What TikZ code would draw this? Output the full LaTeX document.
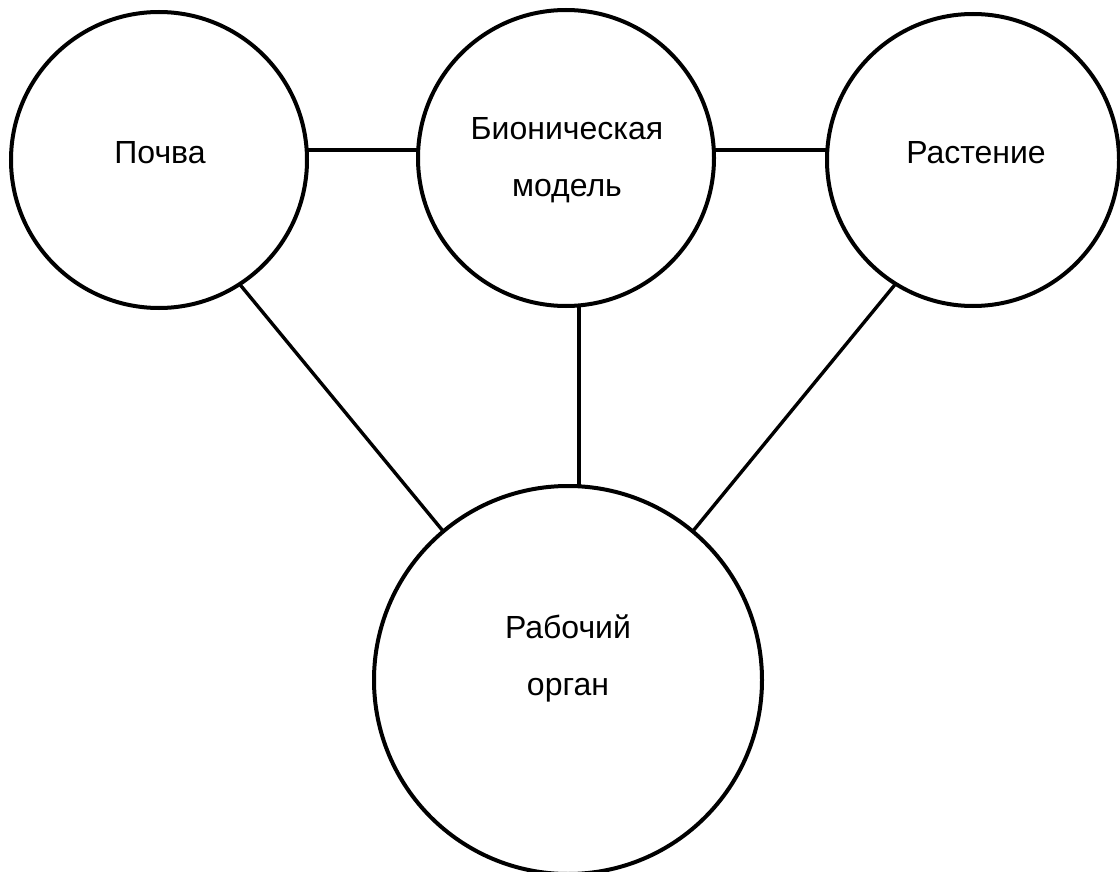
\documentclass[tikz,border=0pt]{standalone}
\usepackage{fontspec}
\setmainfont{Liberation Sans}
\begin{document}
\begin{tikzpicture}[x=0.5pt,y=-0.5pt,
  circ/.style={draw=black,line width=2pt,circle,inner sep=0pt,outer sep=0pt,minimum size=#1},
  lbl/.style={font=\fontsize{16}{28.5}\selectfont,align=center,inner sep=0pt},
  conn/.style={draw=black,line width=2pt},
  diag/.style={draw=black,line width=1.7pt}]
\useasboundingbox (0,0) rectangle (1120,872);
\node[circ=148pt] (p) at (159,160) {};
\node[circ=148pt] (b) at (566,158) {};
\node[circ=146pt] (r) at (973,160) {};
\node[circ=194pt] (o) at (568,680) {};
\node[lbl] (pt) at (160,153) {Почва};
\node[lbl] (bt) at (567,160) {Бионическая\\модель};
\node[lbl] (rt) at (976,153) {Растение};
\node[lbl] (ot) at (568,658) {Рабочий\\орган};
\draw[conn] (p.4.65) -- (p.4.65 -| b.west);
\draw[conn] (b.3.9) -- (b.3.9 -| r.west);
\draw[conn] (b.-85.7) -- (b.-85.7 |- o.north);
\draw[diag] (p.-57) -- (o.130.2);
\draw[diag] (r.-122) -- (o.50.6);
\end{tikzpicture}
\end{document}
